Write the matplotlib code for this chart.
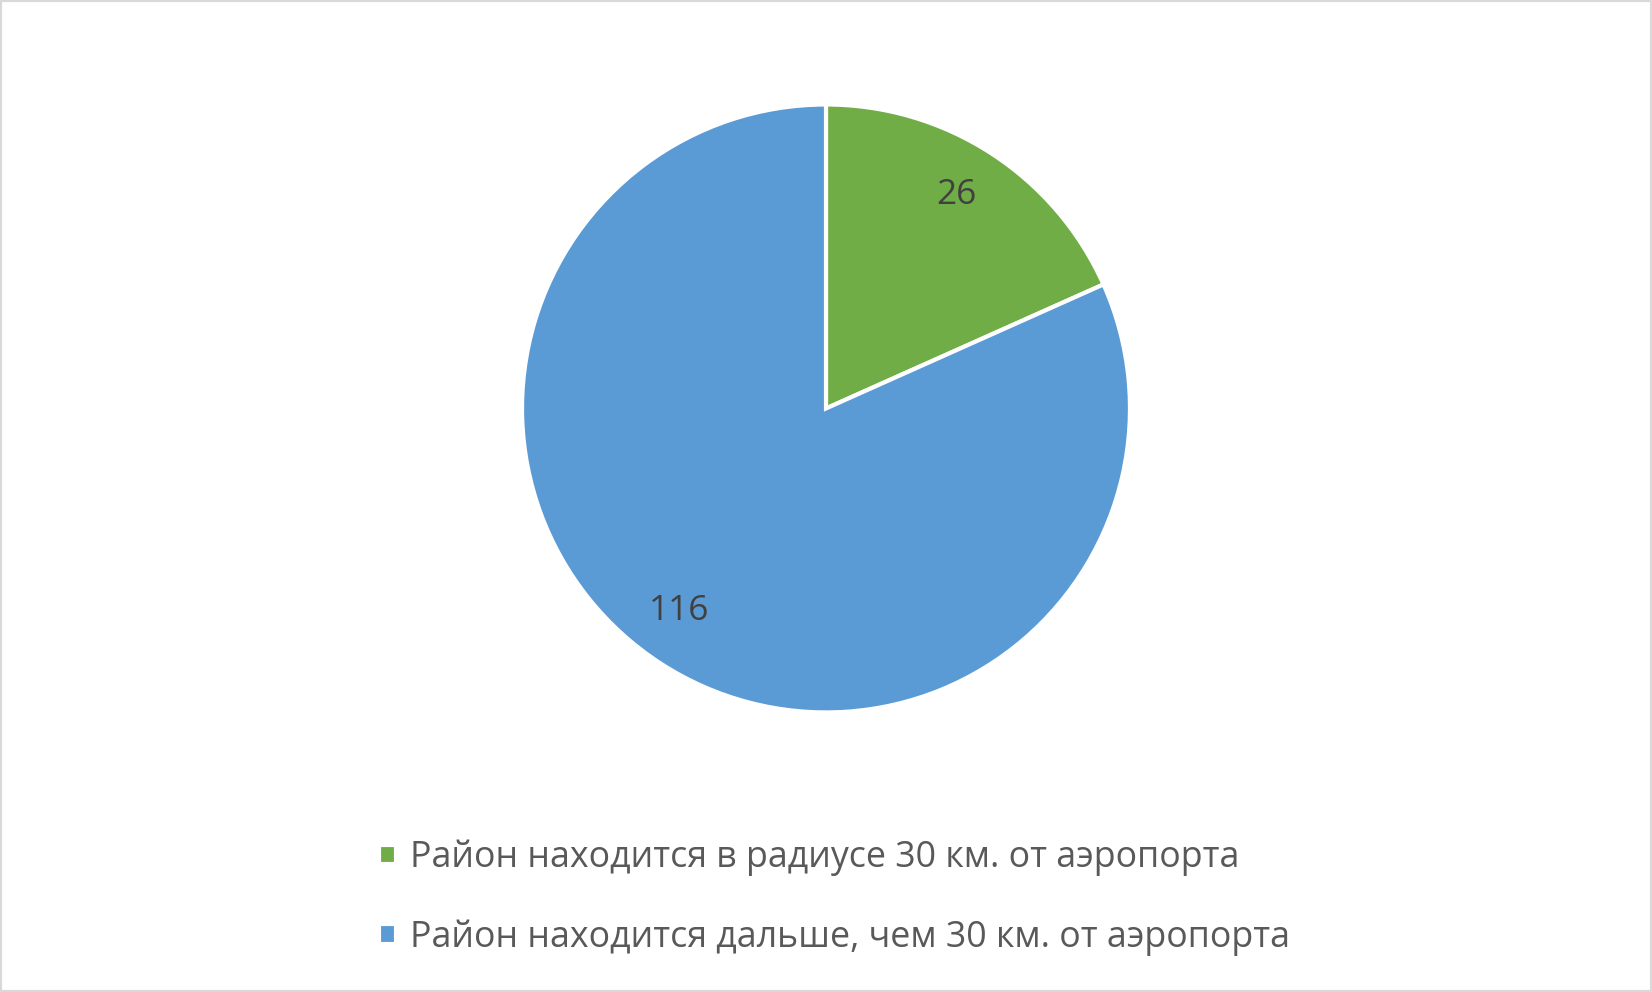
import numpy as np
import matplotlib.pyplot as plt
from matplotlib.patches import Rectangle

labels = [
    "Район находится в радиусе 30 км. от аэропорта",
    "Район находится дальше, чем 30 км. от аэропорта",
]
values = [26, 116]
colors = ["#70AD47", "#5B9BD5"]

plt.rcParams["font.family"] = ["Open Sans", "DejaVu Sans"]

fig = plt.figure(figsize=(16.52, 9.92), dpi=100)
fig.patches.append(Rectangle((0, 0), 1, 1, transform=fig.transFigure,
                             fill=False, edgecolor="#d9d9d9", linewidth=3))

ax = fig.add_axes([0.316, 0.2818, 0.368, 0.6129])
total = sum(values)
wedges, _, autotexts = ax.pie(
    values,
    colors=colors,
    startangle=90,
    counterclock=False,
    radius=1.0,
    autopct=lambda p: f"{round(p * total / 100)}",
    pctdistance=0.825,
    wedgeprops=dict(edgecolor="white", linewidth=3),
    textprops=dict(color="#404040", fontsize=25.5),
)
# nudge labels around the centre like Excel's "best fit" placement
for t, dang in zip(autotexts, [1.5, -3.0]):
    x, y = t.get_position()
    a = np.deg2rad(dang)
    t.set_position((x * np.cos(a) - y * np.sin(a), x * np.sin(a) + y * np.cos(a)))

ax.set_xlim(-1, 1)
ax.set_ylim(-1, 1)
ax.set_aspect("equal")

fig.legend(
    wedges, labels,
    loc="upper left",
    bbox_to_anchor=(0.21, 0.186),
    frameon=False,
    fontsize=25.75,
    labelcolor="#595959",
    handlelength=0.48,
    handleheight=0.48,
    handletextpad=0.38,
    labelspacing=1.2,
)

fig.savefig("out.png", dpi=100)
